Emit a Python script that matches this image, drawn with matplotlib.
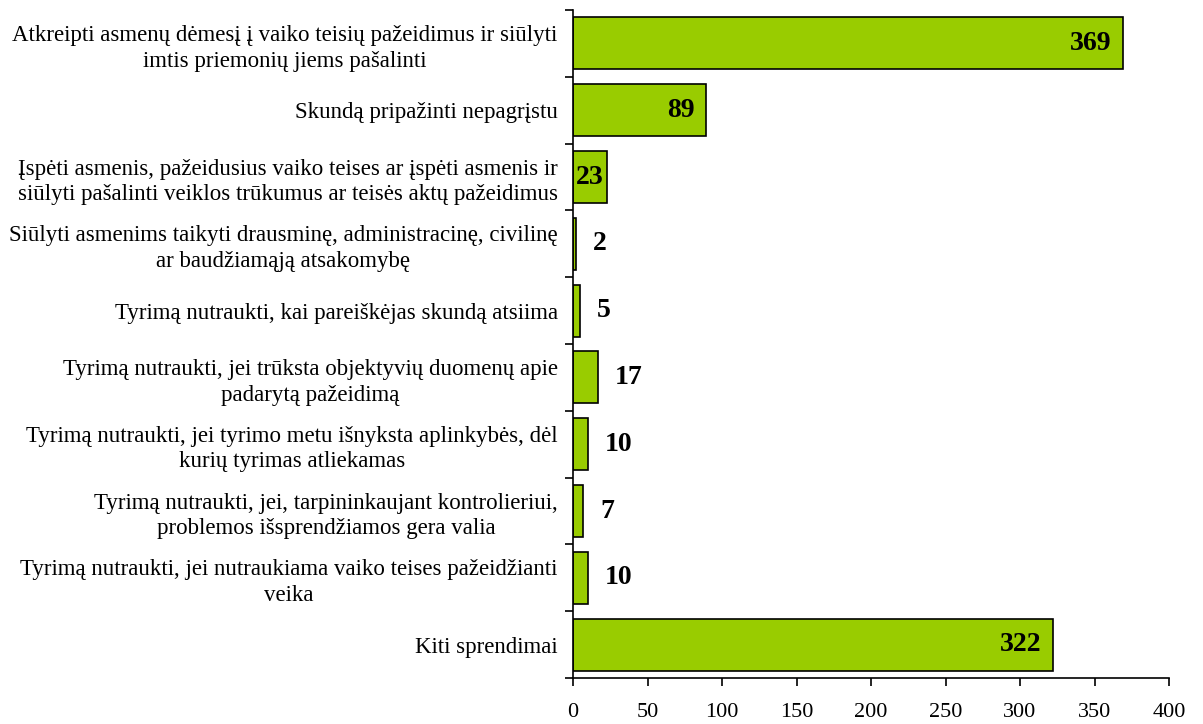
import matplotlib
matplotlib.use("Agg")
import matplotlib.pyplot as plt
import numpy as np

categories = [
    "Atkreipti asmenų dėmesį į vaiko teisių pažeidimus ir siūlyti\nimtis priemonių jiems pašalinti",
    "Skundą pripažinti nepagrįstu",
    "Įspėti asmenis, pažeidusius vaiko teises ar įspėti asmenis ir\nsiūlyti pašalinti veiklos trūkumus ar teisės aktų pažeidimus",
    "Siūlyti asmenims taikyti drausminę, administracinę, civilinę\nar baudžiamąją atsakomybę",
    "Tyrimą nutraukti, kai pareiškėjas skundą atsiima",
    "Tyrimą nutraukti, jei trūksta objektyvių duomenų apie\npadarytą pažeidimą",
    "Tyrimą nutraukti, jei tyrimo metu išnyksta aplinkybės, dėl\nkurių tyrimas atliekamas",
    "Tyrimą nutraukti, jei, tarpininkaujant kontrolieriui,\nproblemos išsprendžiamos gera valia",
    "Tyrimą nutraukti, jei nutraukiama vaiko teises pažeidžianti\nveika",
    "Kiti sprendimai",
]
values = [369, 89, 23, 2, 5, 17, 10, 7, 10, 322]
inside = [True, True, True, False, False, False, False, False, False, True]
x_ticks = [0, 50, 100, 150, 200, 250, 300, 350, 400]

plt.rcParams['font.family'] = ['Liberation Serif', 'DejaVu Serif']

fig = plt.figure(figsize=(12.03, 7.24), dpi=100)
ax = fig.add_axes([573/1203, 1-678/724, (1169-573)/1203, (678-10)/724])

n = len(categories)
ypos = np.arange(n)
ax.barh(ypos, values, height=0.78, color='#99CC00', edgecolor='black', linewidth=1.2)

ax.set_ylim(n - 0.5, -0.5)
ax.set_xlim(0, 400)

ax.set_yticks(ypos)
ax.set_yticklabels(categories, fontsize=16.5, linespacing=1.3, multialignment='center')
ax.tick_params(axis='y', which='major', length=0, pad=11)
ax.set_yticks(np.arange(n + 1) - 0.5, minor=True)
ax.tick_params(axis='y', which='minor', length=6, width=1.2, direction='out')

ax.set_xticks(x_ticks)
ax.set_xticklabels([str(t) for t in x_ticks], fontsize=16)
ax.tick_params(axis='x', which='major', length=6, width=1.2, direction='out', pad=12)

for s in ['top', 'right']:
    ax.spines[s].set_visible(False)
for s in ['left', 'bottom']:
    ax.spines[s].set_linewidth(1.2)

for y, v, ins in zip(ypos, values, inside):
    if ins and v >= 50:
        ax.annotate(str(v), xy=(v, y), xytext=(-8, 0), textcoords='offset points',
                    ha='right', va='center', fontsize=20, fontweight='bold')
    elif ins:
        ax.annotate(str(v), xy=(v / 2, y), ha='center', va='center',
                    fontsize=20, fontweight='bold')
    else:
        ax.annotate(str(v), xy=(v, y), xytext=(12, 0), textcoords='offset points',
                    ha='left', va='center', fontsize=20, fontweight='bold')

fig.savefig('out.png', dpi=100)
